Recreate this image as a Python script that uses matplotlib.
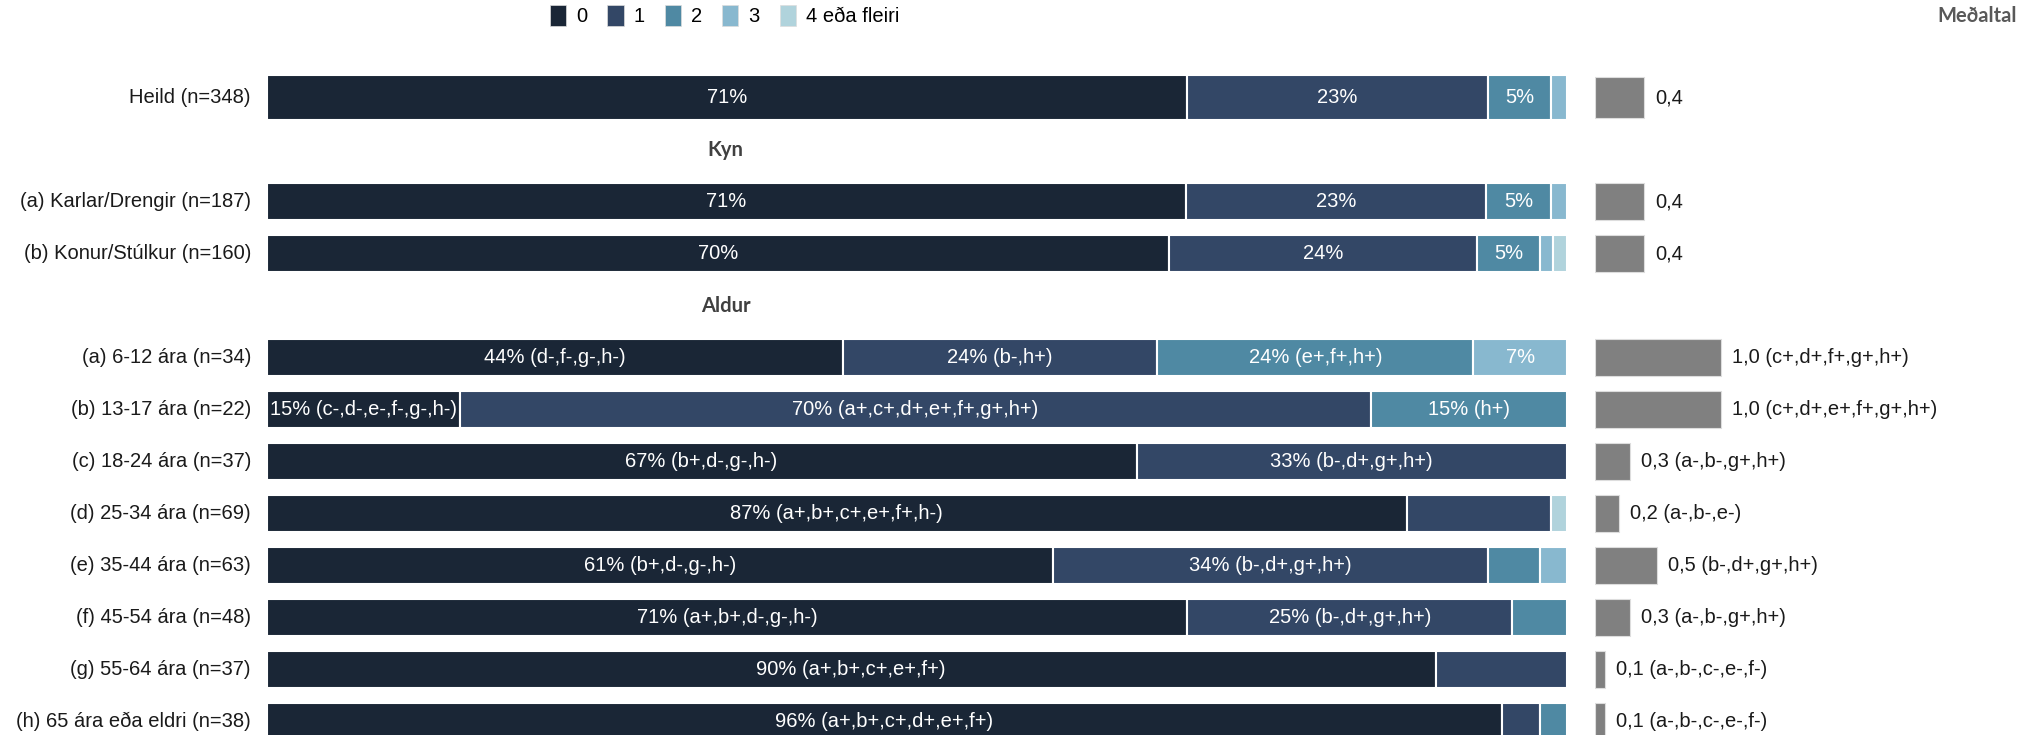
import numpy as np
import matplotlib.pyplot as plt
from matplotlib.patches import Patch

plt.rcParams['font.family'] = ['Liberation Sans', 'DejaVu Sans']

# Data
groups = ['Heild (n=348)', 'Kyn', '(a) Karlar/Drengir (n=187)', '(b) Konur/Stúlkur (n=160)', 'Aldur',
          '(a) 6-12 ára (n=34)', '(b) 13-17 ára (n=22)', '(c) 18-24 ára (n=37)', '(d) 25-34 ára (n=69)',
          '(e) 35-44 ára (n=63)', '(f) 45-54 ára (n=48)', '(g) 55-64 ára (n=37)', '(h) 65 ára eða eldri (n=38)']
categories = ['0', '1', '2', '3', '4 eða fleiri']
val_0 = [70.8, None, 70.7, 69.4, None, 44.3, 14.9, 66.9, 87.7, 60.5, 70.8, 89.9, 95.0]
val_1 = [23.1, None, 23.1, 23.7, None, 24.2, 70.0, 33.1, 11.1, 33.4, 25.0, 10.1, 2.9]
val_2 = [4.9, None, 5.0, 4.8, None, 24.3, 15.1, 0, 0, 4.0, 4.2, 0, 2.1]
val_3 = [1.2, None, 1.2, 1.0, None, 7.2, 0, 0, 0, 2.1, 0, 0, 0]
val_4 = [0, None, 0, 1.1, None, 0, 0, 0, 1.2, 0, 0, 0, 0]
lab_0 = ['71%', '', '71%', '70%', '', '44% (d-,f-,g-,h-)', '15% (c-,d-,e-,f-,g-,h-)', '67% (b+,d-,g-,h-)',
         '87% (a+,b+,c+,e+,f+,h-)', '61% (b+,d-,g-,h-)', '71% (a+,b+,d-,g-,h-)', '90% (a+,b+,c+,e+,f+)',
         '96% (a+,b+,c+,d+,e+,f+)']
lab_1 = ['23%', '', '23%', '24%', '', '24% (b-,h+)', '70% (a+,c+,d+,e+,f+,g+,h+)', '33% (b-,d+,g+,h+)',
         '', '34% (b-,d+,g+,h+)', '25% (b-,d+,g+,h+)', '', '']
lab_2 = ['5%', '', '5%', '5%', '', '24% (e+,f+,h+)', '15% (h+)', '', '', '', '', '', '']
lab_3 = ['', '', '', '', '', '7%', '', '', '', '', '', '', '']
lab_4 = ['', '', '', '', '', '', '', '', '', '', '', '', '']
mean_val = [0.39, None, 0.39, 0.39, None, 1.0, 1.0, 0.28, 0.19, 0.49, 0.28, 0.08, 0.08]
mean_lab = ['0,4', '', '0,4', '0,4', '', '1,0 (c+,d+,f+,g+,h+)', '1,0 (c+,d+,e+,f+,g+,h+)',
            '0,3 (a-,b-,g+,h+)', '0,2 (a-,b-,e-)', '0,5 (b-,d+,g+,h+)', '0,3 (a-,b-,g+,h+)',
            '0,1 (a-,b-,c-,e-,f-)', '0,1 (a-,b-,c-,e-,f-)']

colors = ['#1a2636', '#334766', '#4f89a3', '#88b8cf', '#b0d3dc']
W, H = 2029, 735
fs = 14.5

fig = plt.figure(figsize=(W / 100, H / 100), dpi=100)
ax = fig.add_axes([266.6 / W, 0, (1567 - 266.6) / W, 1])
ax2 = fig.add_axes([1595 / W, 0, (W - 1595) / W, 1])

ylim = ((H - 97.5) / 52, -97.5 / 52)
series = [val_0, val_1, val_2, val_3, val_4]
labels = [lab_0, lab_1, lab_2, lab_3, lab_4]
for i, g in enumerate(groups):
    if val_0[i] is None:
        # section headers
        ax.text(35.3, i, g, ha='center', va='center', fontsize=fs, fontweight='bold',
                color='#404040', family=['Lato', 'DejaVu Sans'])
        continue
    h = 0.87 if i == 0 else 0.72
    left = 0
    for k in range(5):
        v = series[k][i]
        if v > 0:
            ax.barh(i, v, left=left, height=h, color=colors[k], edgecolor='white', linewidth=1.5)
            if labels[k][i]:
                ax.text(left + v / 2, i, labels[k][i], ha='center', va='center',
                        color='white', fontsize=fs)
        left += v
    ax.text(-1.2, i, g, ha='right', va='center', fontsize=fs, color='#1a1a1a')
    # mean bars
    mh = 0.78 if i == 0 else 0.70
    ax2.barh(i, mean_val[i], height=mh, color='#808080', edgecolor='#dddddd', linewidth=0.8)
    ax2.annotate(mean_lab[i], (mean_val[i], i), xytext=(8, 0), textcoords='offset points',
                 ha='left', va='center', fontsize=fs, color='#1a1a1a')

for a in (ax, ax2):
    a.set_ylim(*ylim)
    a.axis('off')
ax.set_xlim(0, 100)
ax2.set_xlim(0, (W - 1595) / 126)

handles = [Patch(facecolor=c, edgecolor='#dddddd', linewidth=0.5) for c in colors]
fig.legend(handles, categories, loc='upper left', bbox_to_anchor=(550 / W, 1 - 5 / H),
           ncol=5, frameon=False, fontsize=fs, handlelength=0.8, handleheight=1.2,
           handletextpad=0.5, columnspacing=1.0, borderpad=0, borderaxespad=0)

fig.text(2017 / W, 1 - 22 / H, 'Meðaltal', ha='right', va='baseline', fontsize=fs,
         fontweight='bold', color='#595959', family=['Lato', 'DejaVu Sans'])

fig.savefig('out.png', dpi=100)
